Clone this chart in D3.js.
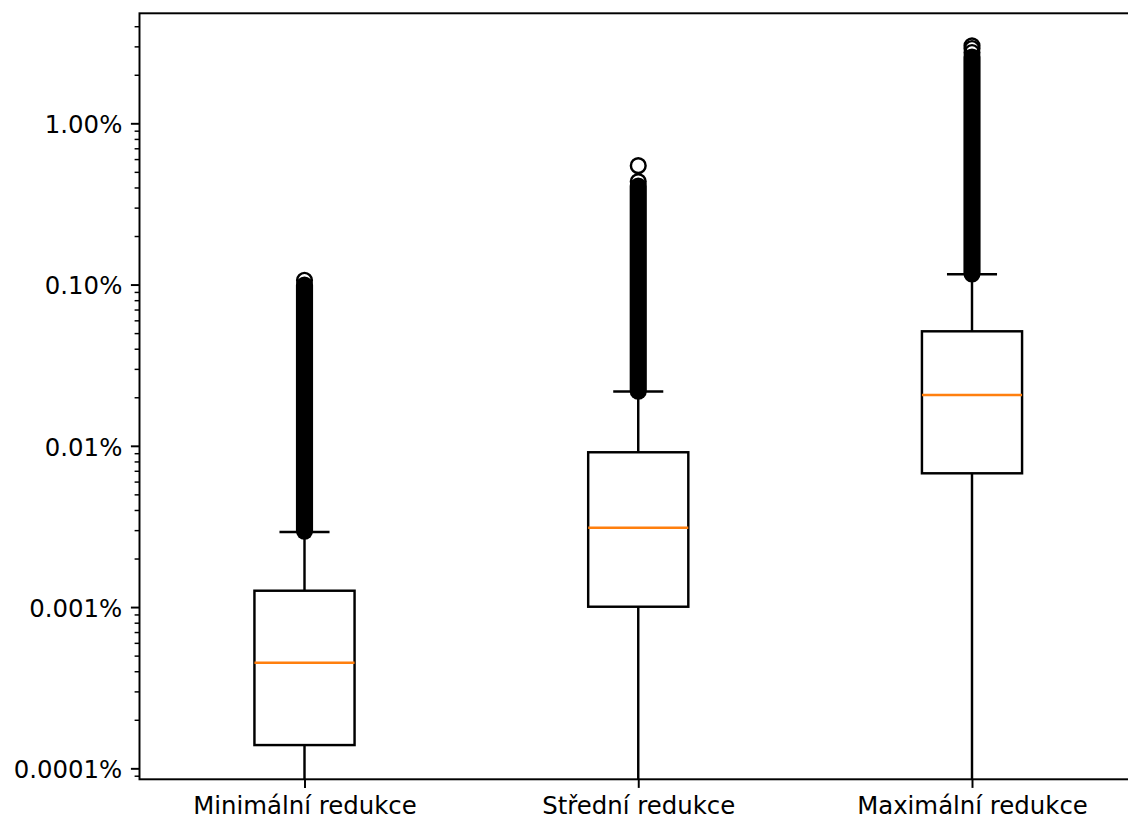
<!DOCTYPE html>
<html>
<head>
<meta charset="utf-8">
<script src="https://cdn.jsdelivr.net/npm/d3@7/dist/d3.min.js"></script>
<style>
  html, body { margin: 0; padding: 0; background: #ffffff; }
  svg { display: block; }
  text { font-family: "DejaVu Sans", sans-serif; }
</style>
</head>
<body>
<svg id="chart" width="1128" height="820"></svg>
<script>
// ---- data (values in percent) ----
const categories = ["Minimální redukce", "Střední redukce", "Maximální redukce"];
const q1Values      = [0.0001394, 0.001005, 0.006754];
const medianValues  = [0.000452, 0.003105, 0.02065];
const q3Values      = [0.001263, 0.00912, 0.0513];
const whiskerHigh   = [0.002918, 0.0217, 0.1158];
const whiskerLow    = [0.00001, 0.00001, 0.00001];   // below the visible range
// dense run of outliers (so many points they merge into a column)
const denseFlierLow  = [0.00296, 0.0218, 0.1165];
const denseFlierHigh = [0.0994, 0.4086, 2.578];
// individually visible outliers at the top of each column
const separateFliers = [[0.1064], [0.4349, 0.546], [2.749, 2.91, 3.024]];
// axis ticks
const yTickValues = [0.0001, 0.001, 0.01, 0.1, 1];
const yTickLabels = ["0.0001%", "0.001%", "0.01%", "0.10%", "1.00%"];
const yDomain = [0.0000855, 4.81];

// ---- layout ----
const plotLeft = 139.5, plotTop = 13.3, plotBottom = 779.3, plotRight = 1140;
const fontSize = 24.4;
const boxLW = 2.45, spineLW = 1.96;
const markerR = 7.35;

const svg = d3.select("#chart");

const x = d3.scaleLinear().domain([1, 3]).range([304.5, 972]);
const y = d3.scaleLog().domain(yDomain).range([plotBottom, plotTop]);

const halfBox = x(1.15) - x(1);
const halfCap = x(1.075) - x(1);

svg.append("defs").append("clipPath").attr("id", "plotclip")
  .append("rect").attr("x", plotLeft).attr("y", plotTop)
  .attr("width", plotRight - plotLeft).attr("height", plotBottom - plotTop);

const g = svg.append("g").attr("clip-path", "url(#plotclip)");

const groups = categories.map((c, i) => ({
  pos: i + 1, q1: q1Values[i], med: medianValues[i], q3: q3Values[i],
  wHi: whiskerHigh[i], wLo: whiskerLow[i],
  dLo: denseFlierLow[i], dHi: denseFlierHigh[i], sep: separateFliers[i]
}));

groups.forEach(d => {
  const cx = x(d.pos);
  // whiskers
  g.append("line").attr("x1", cx).attr("x2", cx).attr("y1", y(d.q3)).attr("y2", y(d.wHi))
    .attr("stroke", "#000").attr("stroke-width", boxLW);
  g.append("line").attr("x1", cx).attr("x2", cx).attr("y1", y(d.q1)).attr("y2", y(d.wLo))
    .attr("stroke", "#000").attr("stroke-width", boxLW);
  // caps
  [d.wHi, d.wLo].forEach(v => {
    g.append("line").attr("x1", cx - halfCap).attr("x2", cx + halfCap)
      .attr("y1", y(v)).attr("y2", y(v))
      .attr("stroke", "#000").attr("stroke-width", boxLW);
  });
  // box
  g.append("rect").attr("x", cx - halfBox).attr("width", 2 * halfBox)
    .attr("y", y(d.q3)).attr("height", y(d.q1) - y(d.q3))
    .attr("fill", "none").attr("stroke", "#000").attr("stroke-width", boxLW);
  // median
  g.append("line").attr("x1", cx - halfBox).attr("x2", cx + halfBox)
    .attr("y1", y(d.med)).attr("y2", y(d.med))
    .attr("stroke", "#ff7f0e").attr("stroke-width", boxLW);
  // separate fliers
  d.sep.forEach(v => {
    g.append("circle").attr("cx", cx).attr("cy", y(v)).attr("r", markerR)
      .attr("fill", "none").attr("stroke", "#000").attr("stroke-width", boxLW);
  });
  // dense fliers (merged column)
  const rOut = markerR + boxLW / 2;
  g.append("rect").attr("x", cx - rOut).attr("width", 2 * rOut)
    .attr("y", y(d.dHi) - rOut).attr("height", y(d.dLo) - y(d.dHi) + 2 * rOut)
    .attr("rx", rOut).attr("ry", rOut).attr("fill", "#000");
});

// ---- axes ----
const yAxis = d3.axisLeft(y).tickValues(yTickValues)
  .tickFormat((v, i) => yTickLabels[i]).tickSize(8.6).tickPadding(8.6);
const ya = svg.append("g").attr("transform", `translate(${plotLeft},0)`).call(yAxis);
ya.select(".domain").remove();
ya.selectAll(".tick line").attr("stroke", "#000").attr("stroke-width", spineLW);
ya.selectAll(".tick text").attr("font-size", fontSize).attr("fill", "#000")
  .attr("font-family", "DejaVu Sans").attr("dy", "0.38em");

// minor ticks
const minorVals = [];
for (let e = -5; e <= 1; e++) {
  for (let k = 2; k <= 9; k++) {
    const v = k * Math.pow(10, e);
    if (v >= yDomain[0] && v <= yDomain[1]) minorVals.push(v);
  }
}
const yMinor = d3.axisLeft(y).tickValues(minorVals).tickFormat("").tickSize(4.9);
const ym = svg.append("g").attr("transform", `translate(${plotLeft},0)`).call(yMinor);
ym.select(".domain").remove();
ym.selectAll(".tick line").attr("stroke", "#000").attr("stroke-width", 1.47);

const xAxis = d3.axisBottom(x).tickValues([1, 2, 3])
  .tickFormat((v, i) => categories[i]).tickSize(8.6).tickPadding(8.6);
const xa = svg.append("g").attr("transform", `translate(0,${plotBottom})`).call(xAxis);
xa.select(".domain").remove();
xa.selectAll(".tick line").attr("stroke", "#000").attr("stroke-width", spineLW);
xa.selectAll(".tick text").attr("font-size", fontSize).attr("fill", "#000")
  .attr("font-family", "DejaVu Sans").attr("y", 34.5).attr("dy", 0);

// spines
svg.append("rect").attr("x", plotLeft).attr("y", plotTop)
  .attr("width", plotRight - plotLeft).attr("height", plotBottom - plotTop)
  .attr("fill", "none").attr("stroke", "#000").attr("stroke-width", spineLW);
</script>
</body>
</html>
